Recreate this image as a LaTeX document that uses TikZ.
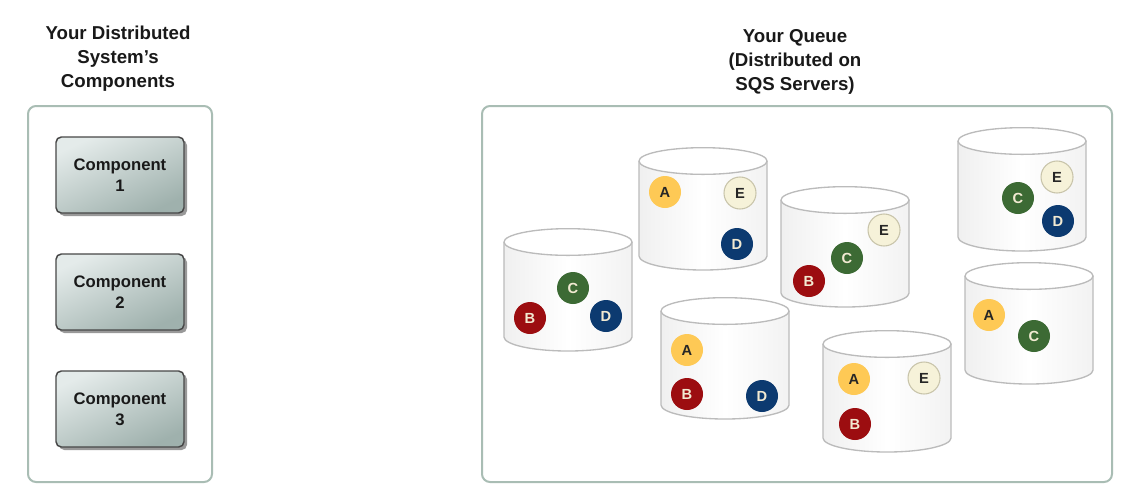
\documentclass[tikz,border=0pt]{standalone}
\usepackage{fontspec}
\setmainfont{Liberation Sans}
\definecolor{panelc}{HTML}{A9BDB4}
\definecolor{cA}{HTML}{FEC955}
\definecolor{cB}{HTML}{9C0D10}
\definecolor{cC}{HTML}{3C6A34}
\definecolor{cD}{HTML}{0C3A70}
\definecolor{cE}{HTML}{F6F2D9}
\definecolor{cEb}{HTML}{C8C4AA}
\definecolor{ltxt}{HTML}{F2EAD2}
\definecolor{compTop}{HTML}{E4EBEA}
\definecolor{compBot}{HTML}{9FB1AD}
\definecolor{cylline}{HTML}{BBBBBB}
\newcommand\qcyl[4]{%
  \coordinate (#1) at (#2,{(#3+#4)/2});
  \path[shading=axis,left color=black!6,right color=black!5,middle color=white,shading angle=90]
    ({#2-64},{#3+14}) -- ({#2-64},{#4-14})
    .. controls ({#2-64},{#4-6.3}) and ({#2-35.3},{#4}) .. ({#2},{#4})
    .. controls ({#2+35.3},{#4}) and ({#2+64},{#4-6.3}) .. ({#2+64},{#4-14})
    -- ({#2+64},{#3+14}) -- cycle;
  \draw[cylline,line width=1pt]
    ({#2-64},{#3+14}) -- ({#2-64},{#4-14})
    .. controls ({#2-64},{#4-6.3}) and ({#2-35.3},{#4}) .. ({#2},{#4})
    .. controls ({#2+35.3},{#4}) and ({#2+64},{#4-6.3}) .. ({#2+64},{#4-14})
    -- ({#2+64},{#3+14});
  \draw[cylline,line width=1pt,fill=white] (#2,{#3+14}) ellipse [x radius=48pt,y radius=10pt];
}
\begin{document}
\begin{tikzpicture}[x=0.75pt,y=-0.75pt,
  head/.style={align=center,font=\bfseries\fontsize{14}{18}\selectfont,text=black!90},
  panel/.style={draw=panelc,line width=1.5pt,rounded corners=6pt,fill=white},
  comp/.style={draw=black!72,line width=1.1pt,rounded corners=4pt,minimum width=96pt,minimum height=57pt,
     shading=axis,top color=compTop,bottom color=compBot,shading angle=25,align=center,
     font=\bfseries\fontsize{12.5}{16}\selectfont,text=black!90},
  shadowbox/.style={fill=black!40,rounded corners=4pt,minimum width=96pt,minimum height=57pt,draw=none},
  tok/.style={circle,minimum size=24pt,inner sep=0pt,font=\bfseries\fontsize{11}{11}\selectfont},
  tA/.style={tok,fill=cA,text=black!85},
  tB/.style={tok,fill=cB,text=ltxt},
  tC/.style={tok,fill=cC,text=ltxt},
  tD/.style={tok,fill=cD,text=ltxt},
  tE/.style={tok,fill=cE,draw=cEb,line width=0.8pt,text=black!85}]
\useasboundingbox (0,0) rectangle (1134,494);
\fill[white] (0,0) rectangle (1134,494);
% headings
\node[head] (h1) at (118,59) {Your Distributed\\System's\\Components};
\node[head] (h2) at (795,62) {Your Queue\\(Distributed on\\SQS Servers)};
% panels
\draw[panel] (28,106) rectangle (212,482);
\draw[panel] (482,106) rectangle (1112,482);
% components
\foreach \i/\y in {1/175,2/292,3/409}{
  \node[shadowbox] (s\i) at (123,\y+3) {};
  \node[comp] (comp\i) at (120,\y) {Component\\\i};
}
% cylinders
\qcyl{q1}{568}{228}{351}
\qcyl{q2}{703}{147}{270}
\qcyl{q3}{845}{186}{307}
\qcyl{q4}{1022}{127}{251}
\qcyl{q5}{725}{297}{419}
\qcyl{q6}{887}{330}{452}
\qcyl{q7}{1029}{262}{384}
% tokens
\node[tC] (q1c) at (573,288) {C};
\node[tB] (q1b) at (530,318) {B};
\node[tD] (q1d) at (606,316) {D};
\node[tA] (q2a) at (665,192) {A};
\node[tE] (q2e) at (740,193) {E};
\node[tD] (q2d) at (737,244) {D};
\node[tE] (q3e) at (884,230) {E};
\node[tC] (q3c) at (847,258) {C};
\node[tB] (q3b) at (809,281) {B};
\node[tE] (q4e) at (1057,177) {E};
\node[tC] (q4c) at (1018,198) {C};
\node[tD] (q4d) at (1058,221) {D};
\node[tA] (q5a) at (687,350) {A};
\node[tB] (q5b) at (687,394) {B};
\node[tD] (q5d) at (762,396) {D};
\node[tA] (q6a) at (854,379) {A};
\node[tE] (q6e) at (924,378) {E};
\node[tB] (q6b) at (855,424) {B};
\node[tA] (q7a) at (989,315) {A};
\node[tC] (q7c) at (1034,336) {C};
\end{tikzpicture}
\end{document}
